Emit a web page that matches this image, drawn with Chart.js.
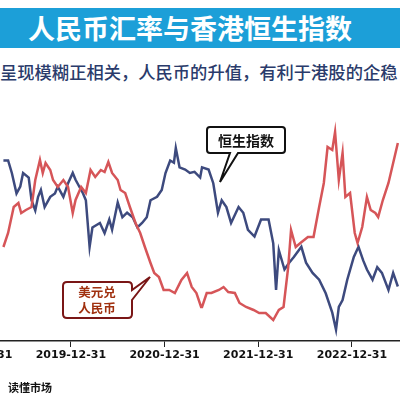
<!DOCTYPE html>
<html><head><meta charset="utf-8">
<script src="https://cdn.jsdelivr.net/npm/chart.js@4"></script>
<style>
body{margin:0;width:400px;height:400px;overflow:hidden;background:#fff;position:relative;font-family:"Noto Sans CJK SC",sans-serif}
#bar{position:absolute;left:0;top:8px;width:400px;height:40px;background:#1c9fd8}
#title{position:absolute;left:0;top:8px;width:380px;height:40px;line-height:40px;text-align:center;color:#fff;font-size:27px;font-weight:bold}
#sub{position:absolute;left:0;top:59px;white-space:nowrap;color:#2a3b6b;font-size:17.3px;font-weight:500}
#src{position:absolute;left:8px;top:379px;font-size:11px;font-weight:bold;color:#111}
#wrap{position:absolute;left:-60px;top:90px;width:460px;height:276px}
svg{position:absolute;left:0;top:0}
</style></head><body>
<div id="bar"></div><div id="title">人民币汇率与香港恒生指数</div>
<div id="sub">呈现模糊正相关，人民币的升值，有利于港股的企稳</div>
<div id="wrap"><canvas id="c"></canvas></div>
<svg width="400" height="400">
<path d="M210,127 H282 Q285,127 285,130 V150 Q285,153 282,153 H238 L220,182 L230,153 H210 Q207,153 207,150 V130 Q207,127 210,127 Z" fill="#fff" stroke="#111" stroke-width="2"/>
<text x="246" y="146" text-anchor="middle" font-size="14" font-weight="bold" fill="#111">恒生指数</text>
<path d="M67,282 H128 Q132,282 132,286 V290 L150,277 L132,300 V314 Q132,318 128,318 H67 Q63,318 63,314 V286 Q63,282 67,282 Z" fill="#fff" stroke="#7a1616" stroke-width="2"/>
<text x="97" y="297" text-anchor="middle" font-size="12.5" font-weight="bold" fill="#a0300f">美元兑</text>
<text x="97" y="313" text-anchor="middle" font-size="12.5" font-weight="bold" fill="#a0300f">人民币</text>
</svg>
<div id="src">读懂市场</div>
<script>
const hsiDates=[2019.28,2019.33,2019.37,2019.42,2019.46,2019.49,2019.55,2019.58,2019.62,2019.65,2019.68,2019.72,2019.78,2019.83,2019.86,2019.92,2019.97,2020.02,2020.05,2020.13,2020.16,2020.20,2020.23,2020.31,2020.36,2020.41,2020.44,2020.50,2020.55,2020.60,2020.66,2020.71,2020.76,2020.81,2020.85,2020.92,2020.97,2021.01,2021.06,2021.10,2021.12,2021.16,2021.22,2021.27,2021.32,2021.38,2021.40,2021.47,2021.52,2021.57,2021.61,2021.66,2021.71,2021.79,2021.84,2021.89,2021.96,2022.03,2022.11,2022.16,2022.19,2022.22,2022.28,2022.33,2022.38,2022.46,2022.51,2022.58,2022.65,2022.72,2022.79,2022.83,2022.86,2022.90,2022.95,2023.02,2023.07,2023.12,2023.16,2023.22,2023.27,2023.32,2023.39,2023.44,2023.49];
const hsiValues=[29900,29900,28800,27000,27600,28800,28400,26400,25500,26700,27300,25800,26700,27000,27600,26700,27900,28800,28200,27000,26400,22300,24000,24400,23500,24700,23800,26200,24900,25300,24900,24000,24400,24900,26400,26700,27300,28800,29900,29700,31000,29300,29100,28800,28900,28400,29300,29100,27900,25300,26400,25800,24400,25800,25300,23800,23200,24700,24700,22600,18500,22000,20300,20900,21400,22300,20900,20000,19400,18200,16500,15000,17000,17600,19400,21400,22300,21100,20300,19400,20500,20000,18500,20000,18800];
const cnyDates=[2019.28,2019.33,2019.39,2019.44,2019.47,2019.52,2019.58,2019.62,2019.67,2019.70,2019.73,2019.78,2019.81,2019.86,2019.92,2019.97,2020.02,2020.05,2020.11,2020.16,2020.21,2020.26,2020.32,2020.36,2020.40,2020.44,2020.50,2020.53,2020.58,2020.63,2020.69,2020.74,2020.79,2020.85,2020.89,2020.94,2020.99,2021.05,2021.11,2021.18,2021.24,2021.29,2021.34,2021.39,2021.40,2021.45,2021.50,2021.58,2021.63,2021.68,2021.75,2021.80,2021.87,2021.95,2022.01,2022.08,2022.16,2022.22,2022.27,2022.32,2022.35,2022.40,2022.45,2022.53,2022.59,2022.65,2022.70,2022.74,2022.79,2022.82,2022.86,2022.90,2022.93,2022.98,2023.03,2023.06,2023.11,2023.16,2023.20,2023.25,2023.28,2023.33,2023.39,2023.44,2023.49];
const cnyValues=[6.715,6.785,6.915,6.935,6.885,6.90,6.915,7.05,7.15,7.085,7.135,7.10,7.05,7.015,7.05,7.015,6.885,6.95,7.015,6.985,7.10,7.065,7.10,7.09,7.14,7.085,7.05,7.00,6.985,6.915,6.835,6.785,6.715,6.635,6.585,6.565,6.50,6.50,6.485,6.55,6.585,6.515,6.485,6.415,6.415,6.485,6.485,6.50,6.515,6.49,6.485,6.435,6.415,6.40,6.385,6.385,6.35,6.40,6.415,6.615,6.80,6.715,6.735,6.765,6.765,6.915,7.035,7.215,7.20,7.29,7.05,7.185,6.965,6.985,6.785,6.735,6.815,6.965,6.90,6.885,6.865,6.95,7.035,7.135,7.235];
const tickYears=[2019,2020,2021,2022,2023];
new Chart(document.getElementById('c'),{
 type:'line',
 data:{datasets:[
  {data:cnyDates.map((d,i)=>({x:d,y:cnyValues[i]})),yAxisID:'y2',borderColor:'#d65558',borderWidth:2.5,pointRadius:0,tension:0},
  {data:hsiDates.map((d,i)=>({x:d,y:hsiValues[i]})),yAxisID:'y1',borderColor:'#3d4a7e',borderWidth:2.5,pointRadius:0,tension:0}
 ]},
 options:{responsive:true,maintainAspectRatio:false,animation:false,
  layout:{padding:{top:10,left:0,right:0,bottom:0}},
  plugins:{legend:{display:false},tooltip:{enabled:false}},
  scales:{
   x:{type:'linear',min:2018.645,max:2023.513,
    afterBuildTicks:s=>{s.ticks=tickYears.map(v=>({value:v}));},
    afterFit:s=>{s.height=25;},
    grid:{drawOnChartArea:false,color:'#222',tickLength:6},
    border:{color:'#222',width:1.5},
    ticks:{autoSkip:false,maxRotation:0,padding:2,color:'#111',font:{size:11,weight:'bold',family:'DejaVu Sans'},callback:v=>(v-1)+'-12-31'}},
   y1:{display:false,min:14000,max:35230},
   y2:{display:false,min:6.245,max:7.45}
  }}
});
</script></body></html>
